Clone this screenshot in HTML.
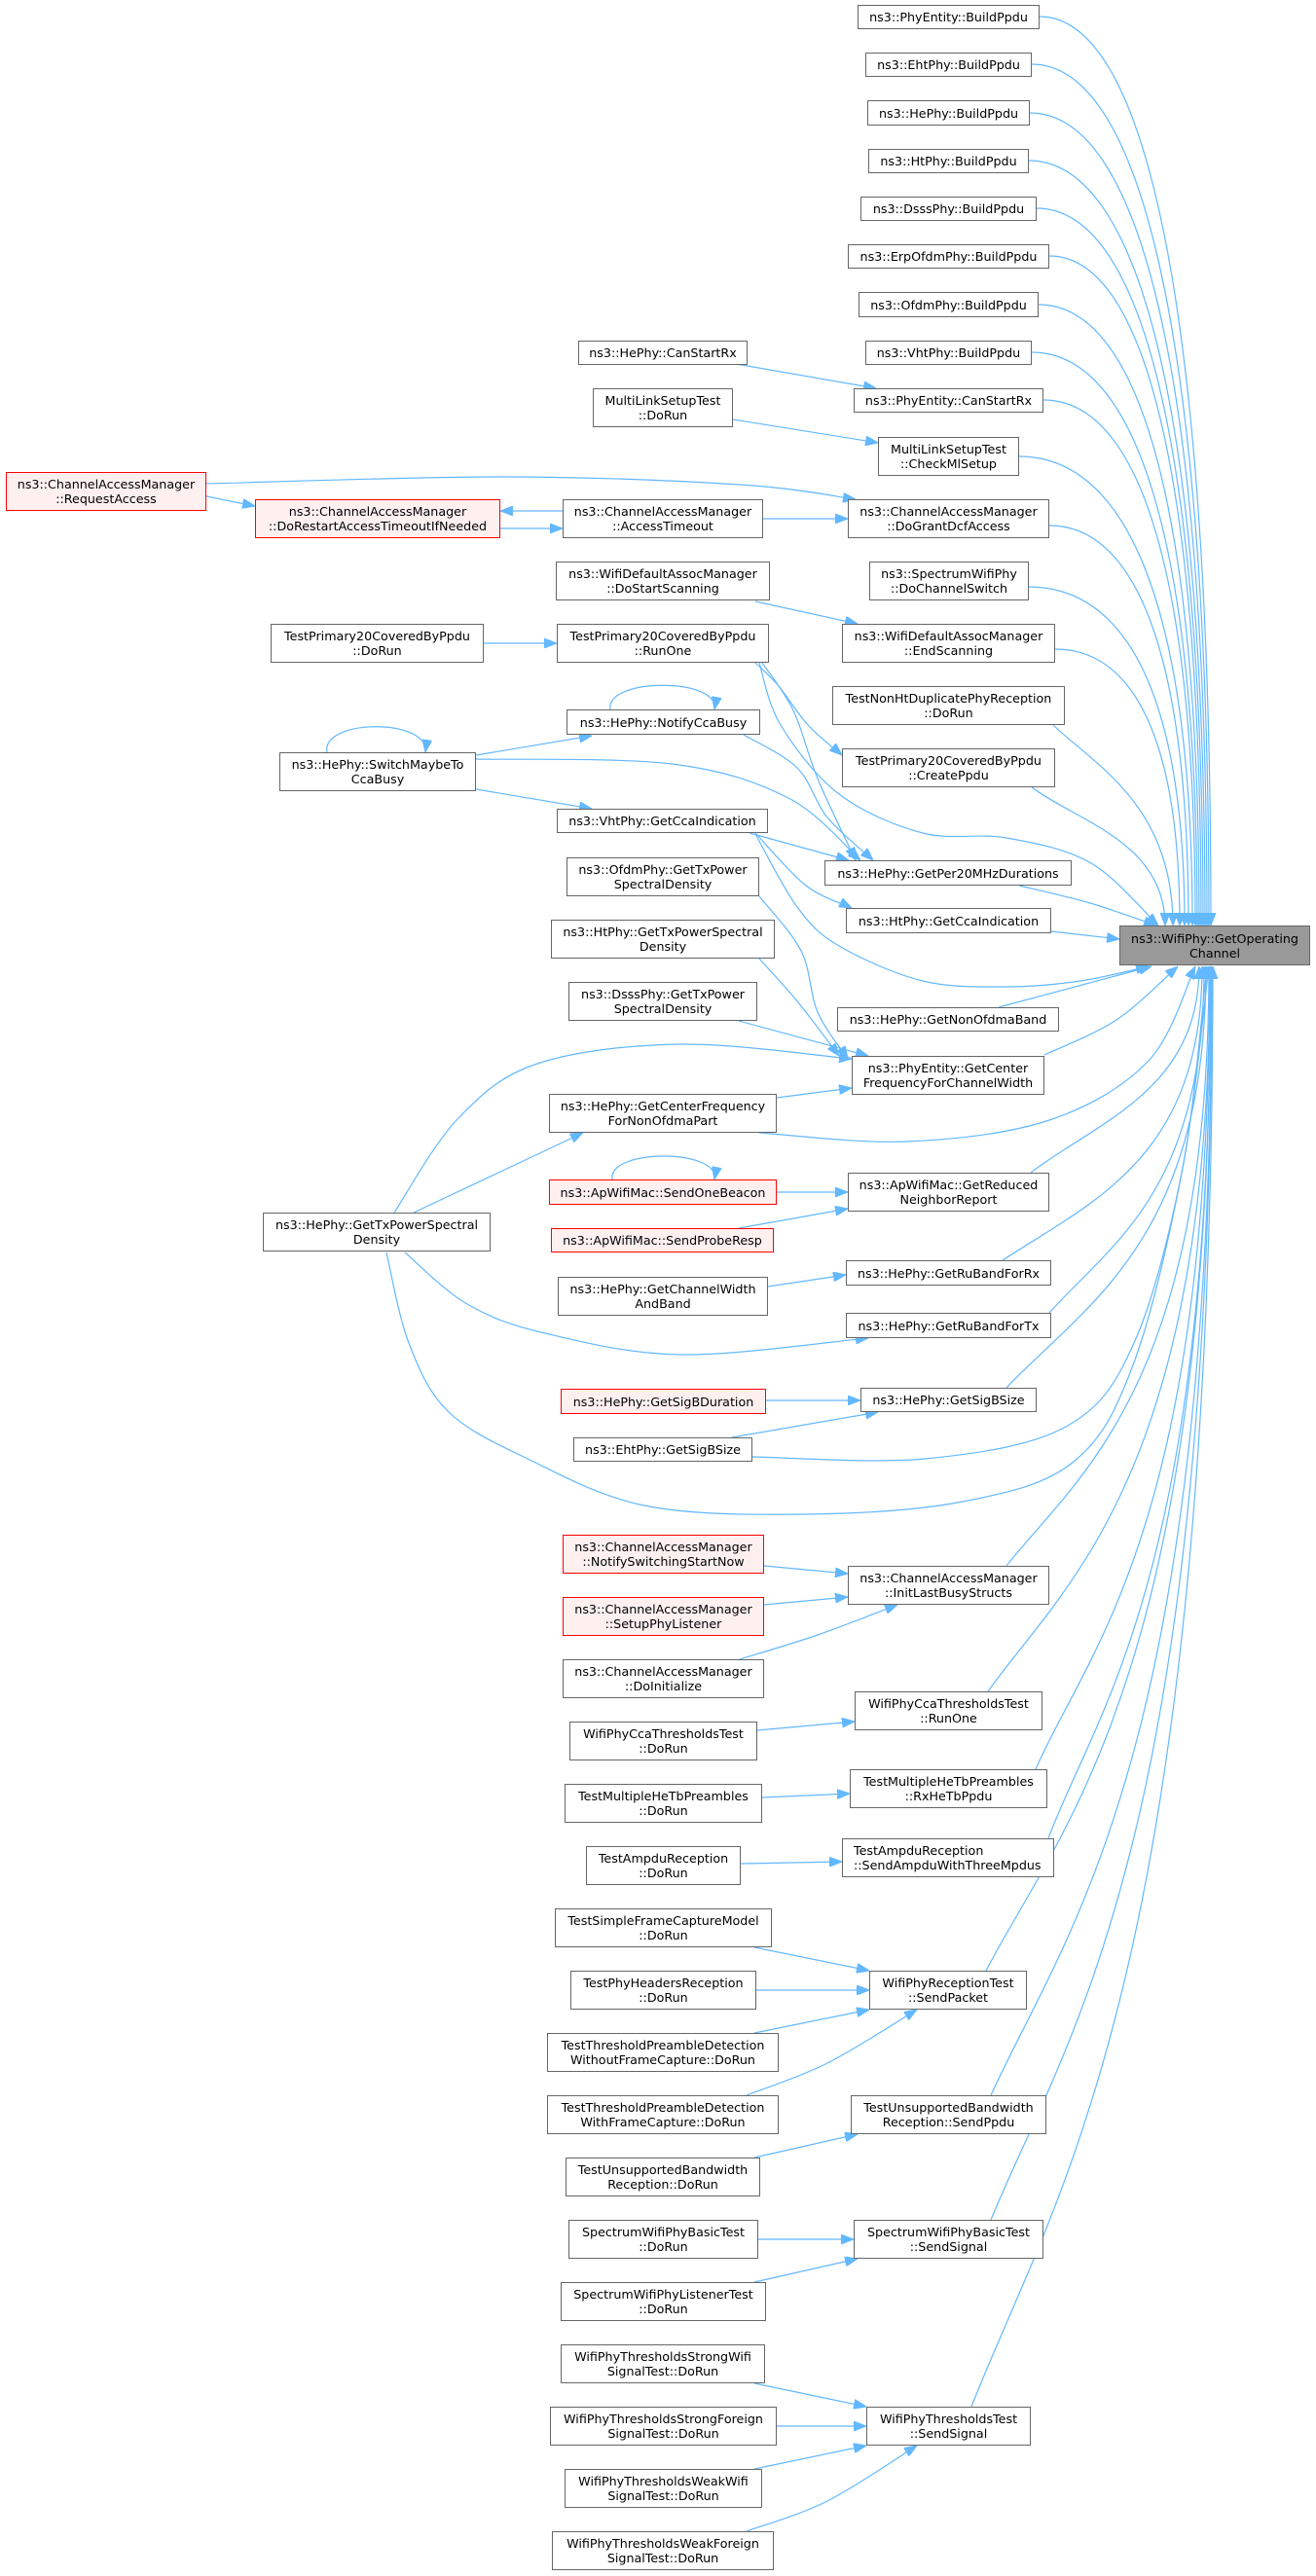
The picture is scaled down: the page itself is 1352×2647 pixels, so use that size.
<!DOCTYPE html>
<html><head><meta charset="utf-8">
<style>
html,body{margin:0;padding:0;background:#fff;}
body{width:1352px;height:2647px;position:relative;overflow:hidden;font-family:"DejaVu Sans","Liberation Sans",sans-serif;}
svg{position:absolute;left:0;top:0;}
.n{position:absolute;box-sizing:border-box;border:1px solid #666;background:#fff;font-size:12.7px;line-height:15px;color:#000;display:flex;flex-direction:column;justify-content:center;align-items:center;text-align:center;white-space:nowrap;}
.r{border-color:#f00;background:#fff0f0;}
.m{background:#999;}
</style></head><body>
<svg id="e" width="1352" height="2647" viewBox="0 0 1352 2647">
<defs><marker id="a" markerUnits="userSpaceOnUse" markerWidth="13" markerHeight="10" refX="13" refY="5" orient="auto"><path d="M0,0 L13,5 L0,10 z" fill="#63b8ff" stroke="#63b8ff"/></marker></defs>
<g id="g" fill="none" stroke="#63b8ff" stroke-width="1.2"></g>
</svg>

<div class="n" style="left:881px;top:5px;width:187px;height:25px">ns3::PhyEntity::BuildPpdu</div>
<div class="n" style="left:889px;top:54px;width:171px;height:25px">ns3::EhtPhy::BuildPpdu</div>
<div class="n" style="left:891px;top:103px;width:167px;height:26px">ns3::HePhy::BuildPpdu</div>
<div class="n" style="left:892px;top:153px;width:165px;height:25px">ns3::HtPhy::BuildPpdu</div>
<div class="n" style="left:884px;top:202px;width:181px;height:25px">ns3::DsssPhy::BuildPpdu</div>
<div class="n" style="left:871px;top:251px;width:207px;height:25px">ns3::ErpOfdmPhy::BuildPpdu</div>
<div class="n" style="left:882px;top:300px;width:185px;height:26px">ns3::OfdmPhy::BuildPpdu</div>
<div class="n" style="left:889px;top:350px;width:171px;height:25px">ns3::VhtPhy::BuildPpdu</div>
<div class="n" style="left:594px;top:350px;width:174px;height:25px">ns3::HePhy::CanStartRx</div>
<div class="n" style="left:877px;top:399px;width:195px;height:25px">ns3::PhyEntity::CanStartRx</div>
<div class="n" style="left:609px;top:399px;width:144px;height:40px"><span>MultiLinkSetupTest</span><span>::DoRun</span></div>
<div class="n" style="left:902px;top:449px;width:145px;height:40px"><span>MultiLinkSetupTest</span><span>::CheckMlSetup</span></div>
<div class="n r" style="left:6px;top:485px;width:206px;height:40px"><span>ns3::ChannelAccessManager</span><span>::RequestAccess</span></div>
<div class="n r" style="left:262px;top:513px;width:252px;height:40px"><span>ns3::ChannelAccessManager</span><span>::DoRestartAccessTimeoutIfNeeded</span></div>
<div class="n" style="left:578px;top:513px;width:206px;height:40px"><span>ns3::ChannelAccessManager</span><span>::AccessTimeout</span></div>
<div class="n" style="left:871px;top:513px;width:207px;height:40px"><span>ns3::ChannelAccessManager</span><span>::DoGrantDcfAccess</span></div>
<div class="n" style="left:571px;top:577px;width:220px;height:40px"><span>ns3::WifiDefaultAssocManager</span><span>::DoStartScanning</span></div>
<div class="n" style="left:893px;top:577px;width:164px;height:40px"><span>ns3::SpectrumWifiPhy</span><span>::DoChannelSwitch</span></div>
<div class="n" style="left:278px;top:641px;width:219px;height:40px"><span>TestPrimary20CoveredByPpdu</span><span>::DoRun</span></div>
<div class="n" style="left:572px;top:641px;width:218px;height:40px"><span>TestPrimary20CoveredByPpdu</span><span>::RunOne</span></div>
<div class="n" style="left:865px;top:641px;width:219px;height:40px"><span>ns3::WifiDefaultAssocManager</span><span>::EndScanning</span></div>
<div class="n" style="left:855px;top:705px;width:239px;height:40px"><span>TestNonHtDuplicatePhyReception</span><span>::DoRun</span></div>
<div class="n" style="left:582px;top:729px;width:199px;height:26px">ns3::HePhy::NotifyCcaBusy</div>
<div class="n" style="left:287px;top:773px;width:202px;height:40px"><span>ns3::HePhy::SwitchMaybeTo</span><span>CcaBusy</span></div>
<div class="n" style="left:865px;top:769px;width:219px;height:40px"><span>TestPrimary20CoveredByPpdu</span><span>::CreatePpdu</span></div>
<div class="n" style="left:572px;top:831px;width:217px;height:25px">ns3::VhtPhy::GetCcaIndication</div>
<div class="n" style="left:847px;top:884px;width:254px;height:26px">ns3::HePhy::GetPer20MHzDurations</div>
<div class="n" style="left:582px;top:881px;width:198px;height:40px"><span>ns3::OfdmPhy::GetTxPower</span><span>SpectralDensity</span></div>
<div class="n" style="left:869px;top:933px;width:211px;height:26px">ns3::HtPhy::GetCcaIndication</div>
<div class="n m" style="left:1150px;top:951px;width:196px;height:41px"><span>ns3::WifiPhy::GetOperating</span><span>Channel</span></div>
<div class="n" style="left:566px;top:945px;width:230px;height:40px"><span>ns3::HtPhy::GetTxPowerSpectral</span><span>Density</span></div>
<div class="n" style="left:584px;top:1009px;width:194px;height:40px"><span>ns3::DsssPhy::GetTxPower</span><span>SpectralDensity</span></div>
<div class="n" style="left:860px;top:1035px;width:228px;height:25px">ns3::HePhy::GetNonOfdmaBand</div>
<div class="n" style="left:875px;top:1085px;width:198px;height:40px"><span>ns3::PhyEntity::GetCenter</span><span>FrequencyForChannelWidth</span></div>
<div class="n" style="left:564px;top:1124px;width:234px;height:40px"><span>ns3::HePhy::GetCenterFrequency</span><span>ForNonOfdmaPart</span></div>
<div class="n r" style="left:564px;top:1212px;width:234px;height:26px">ns3::ApWifiMac::SendOneBeacon</div>
<div class="n" style="left:871px;top:1205px;width:207px;height:40px"><span>ns3::ApWifiMac::GetReduced</span><span>NeighborReport</span></div>
<div class="n r" style="left:566px;top:1262px;width:229px;height:25px">ns3::ApWifiMac::SendProbeResp</div>
<div class="n" style="left:270px;top:1246px;width:234px;height:40px"><span>ns3::HePhy::GetTxPowerSpectral</span><span>Density</span></div>
<div class="n" style="left:869px;top:1295px;width:211px;height:26px">ns3::HePhy::GetRuBandForRx</div>
<div class="n" style="left:573px;top:1312px;width:216px;height:40px"><span>ns3::HePhy::GetChannelWidth</span><span>AndBand</span></div>
<div class="n" style="left:869px;top:1349px;width:211px;height:26px">ns3::HePhy::GetRuBandForTx</div>
<div class="n r" style="left:576px;top:1427px;width:211px;height:26px">ns3::HePhy::GetSigBDuration</div>
<div class="n" style="left:884px;top:1426px;width:181px;height:25px">ns3::HePhy::GetSigBSize</div>
<div class="n" style="left:589px;top:1477px;width:184px;height:25px">ns3::EhtPhy::GetSigBSize</div>
<div class="n r" style="left:578px;top:1577px;width:207px;height:40px"><span>ns3::ChannelAccessManager</span><span>::NotifySwitchingStartNow</span></div>
<div class="n" style="left:871px;top:1609px;width:207px;height:40px"><span>ns3::ChannelAccessManager</span><span>::InitLastBusyStructs</span></div>
<div class="n r" style="left:578px;top:1641px;width:207px;height:40px"><span>ns3::ChannelAccessManager</span><span>::SetupPhyListener</span></div>
<div class="n" style="left:578px;top:1705px;width:207px;height:40px"><span>ns3::ChannelAccessManager</span><span>::DoInitialize</span></div>
<div class="n" style="left:878px;top:1738px;width:193px;height:40px"><span>WifiPhyCcaThresholdsTest</span><span>::RunOne</span></div>
<div class="n" style="left:585px;top:1769px;width:193px;height:40px"><span>WifiPhyCcaThresholdsTest</span><span>::DoRun</span></div>
<div class="n" style="left:873px;top:1818px;width:203px;height:40px"><span>TestMultipleHeTbPreambles</span><span>::RxHeTbPpdu</span></div>
<div class="n" style="left:580px;top:1833px;width:203px;height:40px"><span>TestMultipleHeTbPreambles</span><span>::DoRun</span></div>
<div class="n" style="left:865px;top:1889px;width:218px;height:40px;align-items:flex-start;padding-left:11px"><span>TestAmpduReception</span><span>::SendAmpduWithThreeMpdus</span></div>
<div class="n" style="left:602px;top:1897px;width:159px;height:40px"><span>TestAmpduReception</span><span>::DoRun</span></div>
<div class="n" style="left:570px;top:1961px;width:223px;height:40px"><span>TestSimpleFrameCaptureModel</span><span>::DoRun</span></div>
<div class="n" style="left:893px;top:2025px;width:162px;height:40px"><span>WifiPhyReceptionTest</span><span>::SendPacket</span></div>
<div class="n" style="left:586px;top:2025px;width:191px;height:40px"><span>TestPhyHeadersReception</span><span>::DoRun</span></div>
<div class="n" style="left:562px;top:2089px;width:238px;height:40px"><span>TestThresholdPreambleDetection</span><span>WithoutFrameCapture::DoRun</span></div>
<div class="n" style="left:562px;top:2153px;width:238px;height:40px"><span>TestThresholdPreambleDetection</span><span>WithFrameCapture::DoRun</span></div>
<div class="n" style="left:874px;top:2153px;width:201px;height:40px"><span>TestUnsupportedBandwidth</span><span>Reception::SendPpdu</span></div>
<div class="n" style="left:581px;top:2217px;width:200px;height:40px"><span>TestUnsupportedBandwidth</span><span>Reception::DoRun</span></div>
<div class="n" style="left:877px;top:2281px;width:195px;height:40px"><span>SpectrumWifiPhyBasicTest</span><span>::SendSignal</span></div>
<div class="n" style="left:584px;top:2281px;width:195px;height:40px"><span>SpectrumWifiPhyBasicTest</span><span>::DoRun</span></div>
<div class="n" style="left:576px;top:2345px;width:211px;height:40px"><span>SpectrumWifiPhyListenerTest</span><span>::DoRun</span></div>
<div class="n" style="left:576px;top:2409px;width:210px;height:40px"><span>WifiPhyThresholdsStrongWifi</span><span>SignalTest::DoRun</span></div>
<div class="n" style="left:565px;top:2473px;width:233px;height:40px"><span>WifiPhyThresholdsStrongForeign</span><span>SignalTest::DoRun</span></div>
<div class="n" style="left:890px;top:2473px;width:169px;height:40px"><span>WifiPhyThresholdsTest</span><span>::SendSignal</span></div>
<div class="n" style="left:580px;top:2537px;width:203px;height:40px"><span>WifiPhyThresholdsWeakWifi</span><span>SignalTest::DoRun</span></div>
<div class="n" style="left:567px;top:2601px;width:228px;height:40px"><span>WifiPhyThresholdsWeakForeign</span><span>SignalTest::DoRun</span></div>

<script>
(function(){
var g=document.getElementById('g'),NS='http://www.w3.org/2000/svg';
function add(d){var p=document.createElementNS(NS,'path');p.setAttribute('d',d);p.setAttribute('marker-end','url(#a)');g.appendChild(p);}
function C(sx,sy,ex,ey,a,b,c){if(a==null)a=0.6;if(b==null)b=0;if(c==null)c=0.7;var dx=ex-sx,dy=ey-sy;
 add('M'+sx+','+sy+' C'+(sx+a*dx)+','+(sy+b*dy)+' '+ex+','+(ey-c*dy)+' '+ex+','+ey);}
function P(p){var d='M'+p[0][0]+','+p[0][1];for(var i=0;i<p.length-1;i++){var p0=p[i>0?i-1:0],p1=p[i],p2=p[i+1],p3=p[i+2<p.length?i+2:p.length-1];
 d+=' C'+(p1[0]+(p2[0]-p0[0])/6)+','+(p1[1]+(p2[1]-p0[1])/6)+' '+(p2[0]-(p3[0]-p1[0])/6)+','+(p2[1]-(p3[1]-p1[1])/6)+' '+p2[0]+','+p2[1];}add(d);}
function L(a,b,c,d){add('M'+a+','+b+' L'+c+','+d);}
// top group to main
[[1068,17,1244],[1060,66,1242],[1058,116,1240],[1057,165,1238],[1065,214,1236],[1078,263,1234],[1067,313,1232],[1060,362,1230],[1072,411,1228],[1047,469,1225],[1078,540,1221],[1057,603,1217],[1084,667,1212]].forEach(function(e){C(e[0],e[1],e[2],951);});
C(1082,745,1205,951,0.35,0.2,0.6);
C(1060,809,1197,951,0.35,0.25,0.6);
P([[1047,910],[1120,928],[1188,951]]);
P([[780,681],[802,745],[862,816],[948,856],[1034,861],[1121,887],[1190,951]]);
L(1080,957,1150,965);
// bottom group
P([[776,857],[819,932],[862,972],[948,1008],[1034,1014],[1110,1008],[1180,993]]);
L(1026,1035,1183,993);
P([[1073,1084],[1147,1048],[1210,993]]);
P([[780,1164],[931,1173],[1078,1151],[1180,1090],[1228,993]]);
C(1059,1205,1232,993,0.4,0.25,0.6);
C(1030,1295,1235,993,0.45,0.2,0.65);
C(1078,1349,1237,993,0.4,0.2,0.65);
C(1034,1426,1239,993,0.4,0.2,0.65);
P([[773,1497],[950,1499],[1095,1466],[1165,1380],[1215,1200],[1240,993]]);
P([[397,1287],[420,1380],[460,1450],[540,1498],[662,1547],[826,1556],[989,1543],[1103,1502],[1165,1400],[1215,1200],[1242,993]]);
C(1034,1609,1242,993,0.35,0.15,0.7);
C(1015,1738,1243,993,0.35,0.15,0.7);
C(1064,1818,1243,993,0.3,0.15,0.7);
C(1077,1889,1244,993,0.3,0.15,0.7);
C(1013,2025,1244,993,0.35,0.15,0.7);
C(1018,2153,1245,993,0.35,0.15,0.7);
C(1018,2281,1245,993,0.35,0.15,0.7);
C(998,2473,1246,993,0.35,0.15,0.7);
// other edges
L(756,374,900,399);
L(753,431,902,455);
P([[212,497],[517,490],[760,498],[879,513]]);
L(212,510,262,520);
L(578,525,514,525);
L(514,543,578,543);
L(784,533,871,533);
L(776,618,881,641);
L(497,661,572,661);
P([[776,681],[800,705],[830,745],[865,776]]);
P([[783,681],[815,730],[840,800],[879,884]]);
L(489,776,608,756);
add('M336,773 C330,738 442,738 437,773');
add('M627,729 C622,696 740,696 734,729');
P([[489,780],[690,785],[810,820],[884,884]]);
L(489,811,608,831);
P([[764,755],[819,789],[850,840],[897,884]]);
L(770,856,872,884);
P([[776,856],[828,910],[875,933]]);
P([[780,921],[823,977],[840,1040],[871,1088]]);
P([[780,985],[820,1030],[862,1085]]);
L(759,1049,892,1085);
L(798,1128,875,1118);
P([[405,1246],[470,1150],[552,1093],[700,1073],[875,1088]]);
L(425,1246,599,1164);
P([[416,1287],[480,1340],[560,1370],[700,1392],[892,1375]]);
L(798,1225,871,1225);
add('M629,1212 C624,1180 740,1180 734,1212');
L(759,1262,871,1242);
L(789,1322,869,1310);
L(787,1439,884,1439);
L(752,1477,902,1451);
L(785,1609,871,1617);
L(785,1649,871,1641);
P([[760,1705],[840,1680],[922,1649]]);
L(778,1778,878,1769);
L(783,1847,873,1843);
L(761,1915,865,1913);
L(775,2001,893,2025);
L(777,2045,893,2045);
L(775,2089,893,2065);
P([[767,2153],[850,2120],[942,2065]]);
L(775,2217,881,2193);
L(779,2301,877,2301);
L(775,2345,881,2321);
L(775,2449,890,2473);
L(798,2493,890,2493);
L(775,2537,890,2513);
P([[767,2601],[850,2570],[942,2513]]);
})();
</script>
</body></html>
